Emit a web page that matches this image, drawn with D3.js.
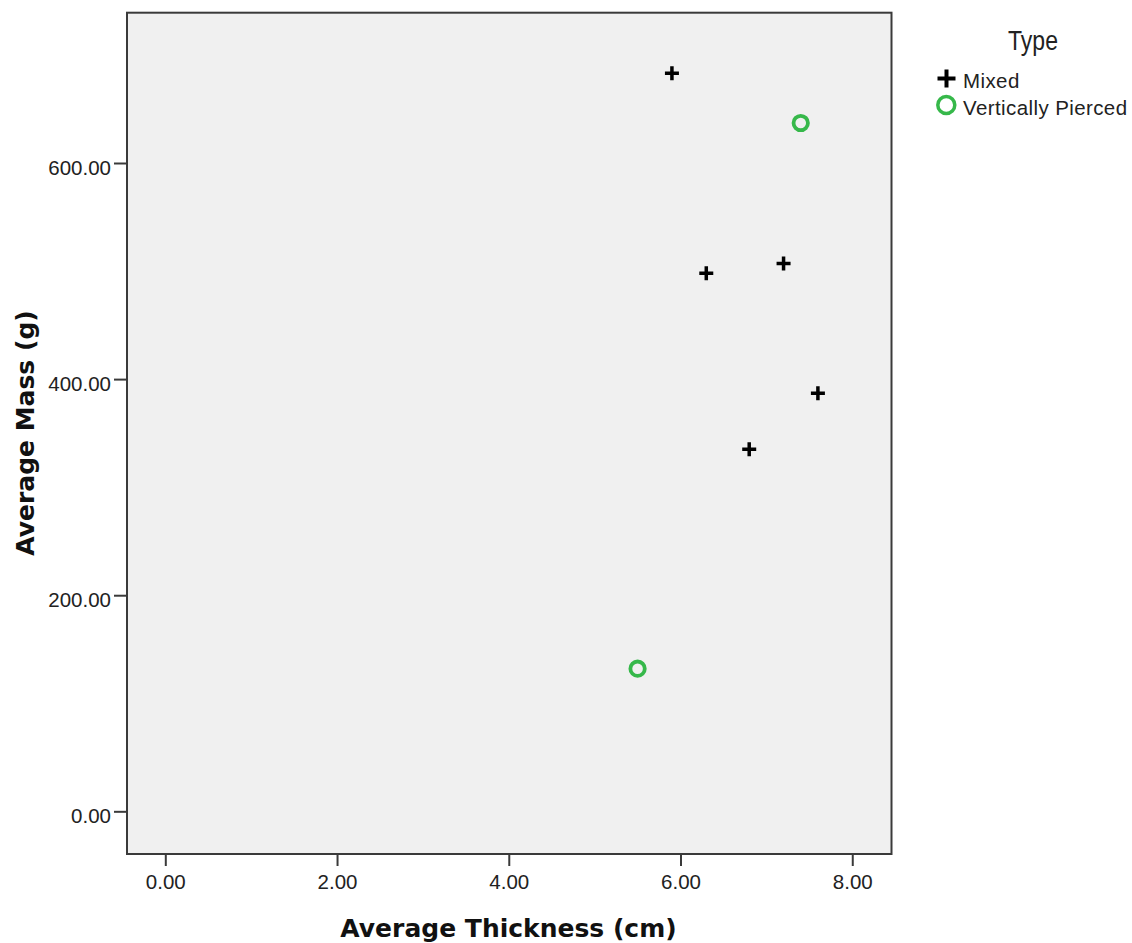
<!DOCTYPE html>
<html>
<head>
<meta charset="utf-8">
<script src="https://cdn.jsdelivr.net/npm/d3@7"></script>
<style>
  body { margin: 0; background: #fff; }
  svg text { font-family: "Liberation Sans", Arial, sans-serif; }
</style>
</head>
<body>
<svg id="chart"></svg>
<script>
// data
let mixedX = [5.9, 6.3, 7.2, 7.6, 6.8];
let mixedY = [683, 498, 507, 387, 335];
let piercedX = [7.4, 5.5];
let piercedY = [637, 132];
let xTicks = [0, 2, 4, 6, 8];
let yTicks = [0, 200, 400, 600];
let types = ['Mixed', 'Vertically Pierced'];

let W = 1132, H = 943;
let plotL = 127, plotR = 891.5, plotT = 12.7, plotB = 854;
let green = '#36b84a';

let svg = d3.select('#chart').attr('width', W).attr('height', H);

let xScale = d3.scaleLinear().domain([-0.446, 8.457]).range([plotL, plotR]);
let yScale = d3.scaleLinear().domain([-39.5, 739.1]).range([plotB, plotT]);

// plot frame
svg.append('rect')
  .attr('x', plotL).attr('y', plotT)
  .attr('width', plotR - plotL).attr('height', plotB - plotT)
  .attr('fill', '#f0f0f0')
  .attr('stroke', '#3a3a3a').attr('stroke-width', 2);

// axes
let xAxis = d3.axisBottom(xScale).tickValues(xTicks).tickFormat(d3.format('.2f'))
  .tickSizeInner(12).tickSizeOuter(0).tickPadding(8);
let xg = svg.append('g').attr('transform', `translate(0, ${plotB})`).call(xAxis);

let yAxis = d3.axisLeft(yScale).tickValues(yTicks).tickFormat(d3.format('.2f'))
  .tickSizeInner(13).tickSizeOuter(0).tickPadding(3);
let yg = svg.append('g').attr('transform', `translate(${plotL}, 0)`).call(yAxis);

[xg, yg].forEach(g => {
  g.select('.domain').remove();
  g.selectAll('.tick line').attr('stroke', '#3a3a3a').attr('stroke-width', 2);
  g.selectAll('.tick text').attr('fill', '#222').style('font-size', '20.5px');
});
yg.selectAll('.tick text').attr('dy', '0.54em');

// axis titles
svg.append('text')
  .attr('x', 508.5).attr('y', 937)
  .attr('text-anchor', 'middle')
  .style('font-family', '"DejaVu Sans", sans-serif')
  .style('font-weight', 'bold').style('font-size', '25px')
  .attr('fill', '#111')
  .text('Average Thickness (cm)');

svg.append('text')
  .attr('transform', 'translate(33.5, 433) rotate(-90)')
  .attr('text-anchor', 'middle')
  .style('font-family', '"DejaVu Sans", sans-serif')
  .style('font-weight', 'bold').style('font-size', '25px')
  .attr('fill', '#111')
  .text('Average Mass (g)');

function drawPlus(g, cx, cy, half, sw) {
  g.append('path')
    .attr('d', `M${cx - half},${cy}H${cx + half}M${cx},${cy - half}V${cy + half}`)
    .attr('stroke', '#000').attr('stroke-width', sw).attr('fill', 'none');
}

let points = svg.append('g');
mixedX.forEach((x, i) => drawPlus(points, xScale(x), yScale(mixedY[i]), 7, 3.5));

points.selectAll('circle.pierced')
  .data(piercedX.map((x, i) => ({ x: x, y: piercedY[i] })))
  .enter()
  .append('circle')
  .attr('class', 'pierced')
  .attr('cx', d => xScale(d.x))
  .attr('cy', d => yScale(d.y))
  .attr('r', 7.2)
  .attr('fill', 'none')
  .attr('stroke', green)
  .attr('stroke-width', 3.8);

// legend
let legend = svg.append('g');
legend.append('text')
  .attr('transform', 'translate(1033, 50) scale(1, 1.22)')
  .attr('text-anchor', 'middle')
  .style('font-size', '23px').attr('fill', '#222')
  .text('Type');

drawPlus(legend, 946.5, 78.5, 9, 4);
legend.append('circle')
  .attr('cx', 946.3).attr('cy', 105).attr('r', 8.5)
  .attr('fill', 'none').attr('stroke', green).attr('stroke-width', 3.5);

let itemY = [88.3, 115];
legend.selectAll('text.item')
  .data(types)
  .enter()
  .append('text')
  .attr('class', 'item')
  .attr('x', 963)
  .attr('y', (d, i) => itemY[i])
  .style('font-size', '20.5px').style('letter-spacing', '0.4px')
  .attr('fill', '#222')
  .text(d => d);
</script>
</body>
</html>
